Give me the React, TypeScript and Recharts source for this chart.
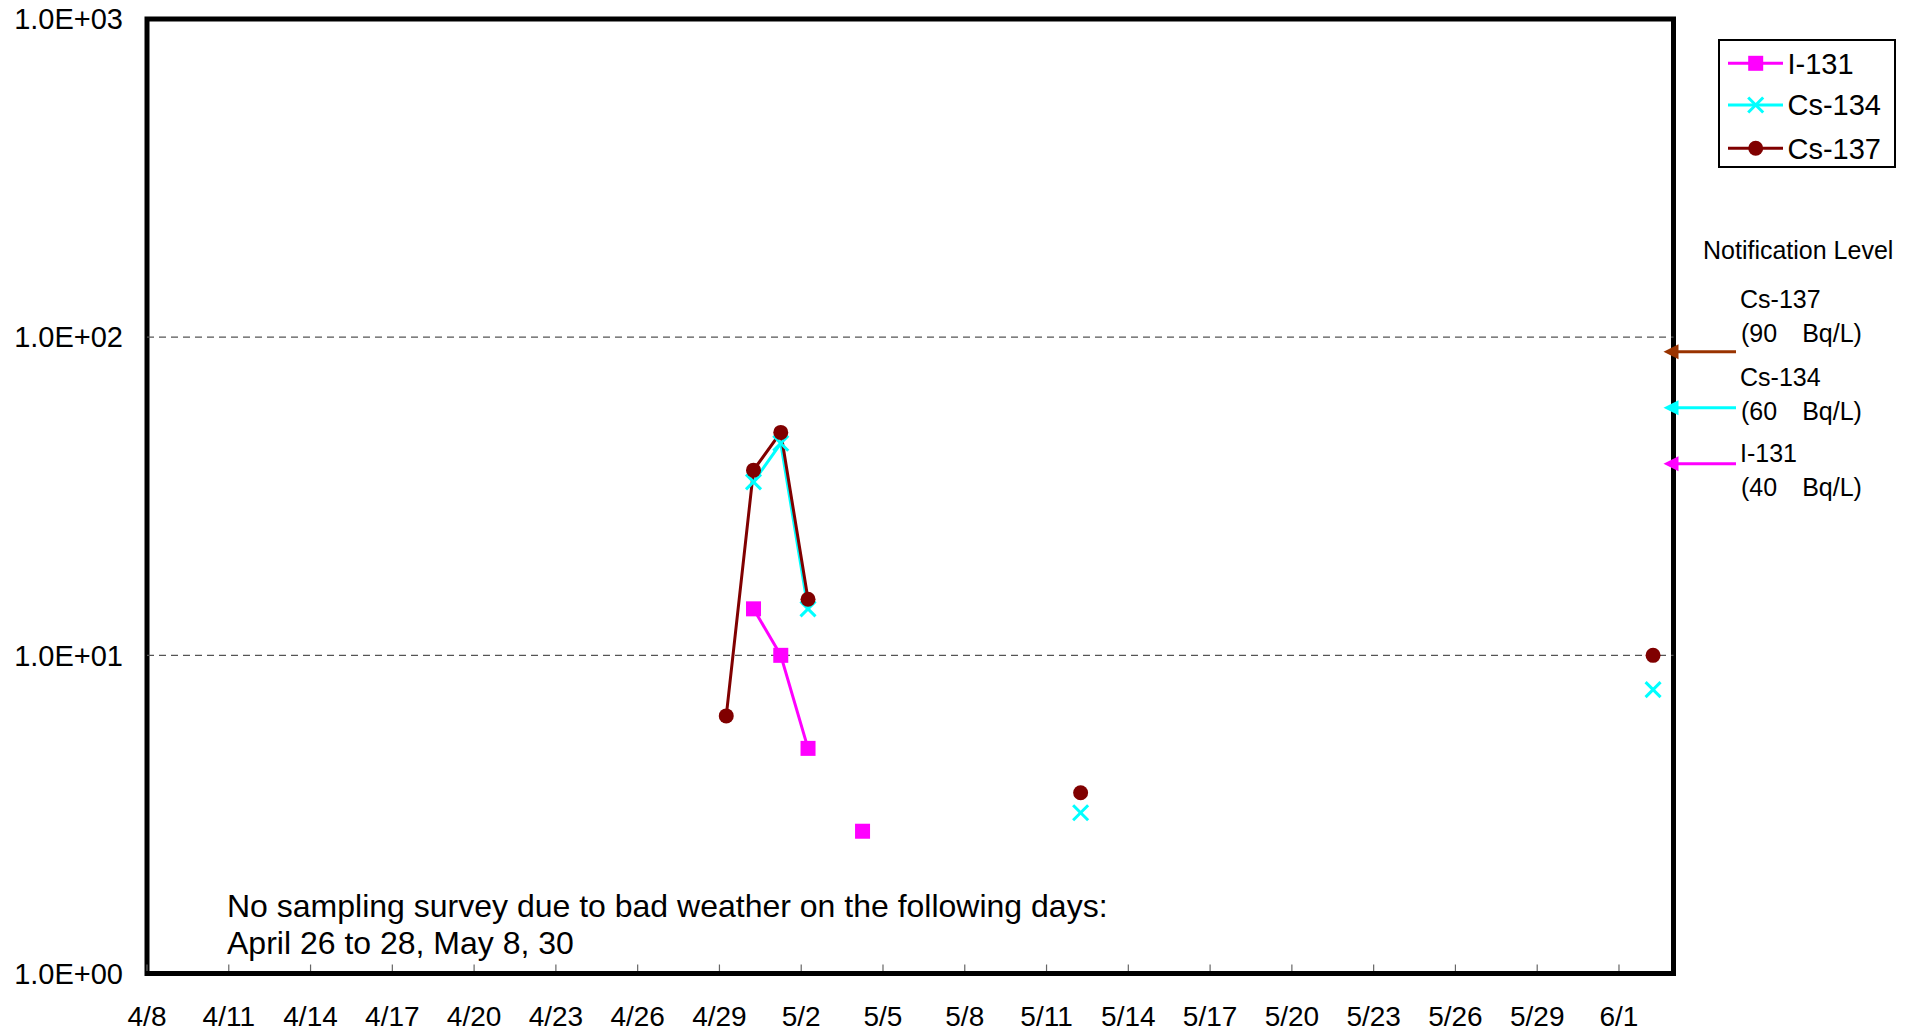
import React from 'react';
import { LineChart, Line, XAxis, YAxis, ReferenceLine, ReferenceArea, ReferenceDot } from 'recharts';

const FONT = '"Liberation Sans", Arial, "Noto Sans CJK JP", sans-serif';

// ---- axis definitions ----
const startDate = '4/8';
const endDate = '6/3';
const xTickLabels = ['4/8', '4/11', '4/14', '4/17', '4/20', '4/23', '4/26', '4/29', '5/2', '5/5', '5/8', '5/11', '5/14', '5/17', '5/20', '5/23', '5/26', '5/29', '6/1'];
const yTicks = [1, 10, 100, 1000];
const gridValues = [10, 100];
const SAMPLE_HOUR = 6; // samples plotted at 6:00 of the sampling day

// ---- measured values (Bq/L) ----
const sampleDates = ['4/29', '4/30', '5/1', '5/2', '5/4', '5/12', '6/2'];
const i131Values = [null, 14.0, 10.0, 5.1, 2.8, null, null];
const cs134Values = [null, 35.1, 46.4, 14.0, null, 3.2, 7.8];
const cs137Values = [6.45, 38.2, 50.2, 15.0, null, 3.7, 10.0];

// ---- notification levels ----
const levelNames = ['Cs-137', 'Cs-134', 'I-131'];
const levelValues = [90, 60, 40];
const levelColors = ['#993300', '#00FFFF', '#FF00FF'];
const levelTextBaselines = [[308.3, 341.7], [386, 420], [462.3, 495.7]];

const seriesNames = ['I-131', 'Cs-134', 'Cs-137'];
const seriesKeys = ['i131', 'cs134', 'cs137'];
const seriesColors = ['#FF00FF', '#00FFFF', '#800000'];

const monthStart: Record<number, number> = { 4: 0, 5: 30, 6: 61 };
const dayOf = (s: string) => {
  const [m, d] = s.split('/').map(Number);
  return monthStart[m] + d;
};
const dayIndex = (s: string) => dayOf(s) - dayOf(startDate);
const X_MAX = dayIndex(endDate);

const rows: any[] = [];
for (let d = 0; d < X_MAX; d++) {
  const row: any = { x: d + SAMPLE_HOUR / 24, i131: null, cs134: null, cs137: null };
  sampleDates.forEach((s, i) => {
    if (dayIndex(s) === d) {
      row.i131 = i131Values[i];
      row.cs134 = cs134Values[i];
      row.cs137 = cs137Values[i];
    }
  });
  rows.push(row);
}

const xTicks = xTickLabels.map(dayIndex);

const fmtExp = (v: number) => {
  const e = Math.round(Math.log10(v));
  const m = v / Math.pow(10, e);
  return `${m.toFixed(1)}E${e >= 0 ? '+' : '-'}${String(Math.abs(e)).padStart(2, '0')}`;
};

const Marker = ({ kind, cx, cy, color }: { kind: number; cx: number; cy: number; color: string }) => {
  if (kind === 0) return <rect x={cx - 7.5} y={cy - 7.5} width={15} height={15} fill={color} />;
  if (kind === 1)
    return (
      <g stroke={color} strokeWidth={3}>
        <line x1={cx - 7.5} y1={cy - 7.5} x2={cx + 7.5} y2={cy + 7.5} />
        <line x1={cx - 7.5} y1={cy + 7.5} x2={cx + 7.5} y2={cy - 7.5} />
      </g>
    );
  return <circle cx={cx} cy={cy} r={7.5} fill={color} />;
};

const makeDot = (kind: number, color: string) => (props: any) => {
  const { cx, cy, index, value } = props;
  if (cx == null || cy == null || value == null) return <g key={`d${kind}-${index}`} />;
  return (
    <g key={`d${kind}-${index}`}>
      <Marker kind={kind} cx={cx} cy={cy} color={color} />
    </g>
  );
};

const XTick = (props: any) => {
  const { x, y, payload } = props;
  const i = xTicks.indexOf(payload.value);
  return (
    <g>
      <line x1={x} x2={x} y1={y - 2.5} y2={y - 9} stroke="#666" strokeWidth={1.2} />
      <text x={x} y={y + 52.5} textAnchor="middle" fontSize={28} fontFamily={FONT} fill="#000">
        {xTickLabels[i]}
      </text>
    </g>
  );
};

const LevelArrow = (idx: number) => (props: any) => {
  const { cx, cy } = props;
  const color = levelColors[idx];
  return (
    <g>
      <line x1={cx + 4} y1={cy} x2={cx + 62.5} y2={cy} stroke={color} strokeWidth={3} />
      <polygon points={`${cx - 10},${cy} ${cx + 5},${cy - 7.5} ${cx + 5},${cy + 7.5}`} fill={color} />
    </g>
  );
};

export default function App() {
  return (
    <div style={{ position: 'absolute', left: 0, top: 0, width: 1917, height: 1034, background: '#fff', overflow: 'hidden' }}>
      <LineChart
        width={1917}
        height={1034}
        data={rows}
        margin={{ top: 19, right: 243.5, bottom: 0, left: 0 }}
      >
        <XAxis
          dataKey="x"
          type="number"
          domain={[0, X_MAX]}
          ticks={xTicks}
          interval={0}
          allowDataOverflow
          axisLine={false}
          tickLine={false}
          tickSize={0}
          tickMargin={0}
          height={60.5}
          tick={<XTick />}
        />
        <YAxis
          type="number"
          scale="log"
          domain={[1, 1000]}
          ticks={yTicks}
          interval={0}
          allowDataOverflow
          axisLine={false}
          tickLine={false}
          tickSize={0}
          tickMargin={24}
          width={147}
          tickFormatter={fmtExp}
          tick={{ fill: '#000', fontSize: 29, fontFamily: FONT }}
        />
        {gridValues.map((g) => (
          <ReferenceLine key={g} y={g} stroke="#555" strokeWidth={1.2} strokeDasharray="7 5" />
        ))}
        {seriesKeys.map((k, i) => (
          <Line
            key={k}
            dataKey={k}
            name={seriesNames[i]}
            type="linear"
            stroke={seriesColors[i]}
            strokeWidth={3}
            dot={makeDot(i, seriesColors[i])}
            activeDot={false}
            connectNulls={false}
            isAnimationActive={false}
          />
        ))}
        <ReferenceArea x1={0} x2={X_MAX} y1={1} y2={1000} fill="none" stroke="#000" strokeWidth={5} ifOverflow="visible" />
        {levelValues.map((v, i) => (
          <ReferenceDot key={v} x={X_MAX} y={v} r={0} ifOverflow="visible" shape={LevelArrow(i)} />
        ))}
      </LineChart>
      <svg
        width={1917}
        height={1034}
        style={{ position: 'absolute', left: 0, top: 0, pointerEvents: 'none' }}
      >
        <rect x={1719} y={40} width={176} height={127} fill="#fff" stroke="#000" strokeWidth={2} />
        {seriesNames.map((n, i) => {
          const cy = [63.3, 105, 148.3][i];
          return (
            <g key={n}>
              <line x1={1728} x2={1783} y1={cy} y2={cy} stroke={seriesColors[i]} strokeWidth={3} />
              <Marker kind={i} cx={1755.7} cy={cy} color={seriesColors[i]} />
              <text x={1787.5} y={cy + 10.4} fontSize={29} fontFamily={FONT} fill="#000">
                {n}
              </text>
            </g>
          );
        })}
        <text x={1703} y={259.3} fontSize={25} fontFamily={FONT} fill="#000">
          Notification Level
        </text>
        {levelNames.map((n, i) => (
          <g key={n}>
            <text x={1740} y={levelTextBaselines[i][0]} fontSize={25} fontFamily={FONT} fill="#000">
              {n}
            </text>
            <text x={1741} y={levelTextBaselines[i][1]} fontSize={25} fontFamily={FONT} fill="#000">
              {`(${levelValues[i]}\u3000Bq/L)`}
            </text>
          </g>
        ))}
        <text x={227} y={916.7} fontSize={32} fontFamily={FONT} fill="#000">
          No sampling survey due to bad weather on the following days:
        </text>
        <text x={227} y={954} fontSize={32} fontFamily={FONT} fill="#000">
          April 26 to 28, May 8, 30
        </text>
      </svg>
    </div>
  );
}
